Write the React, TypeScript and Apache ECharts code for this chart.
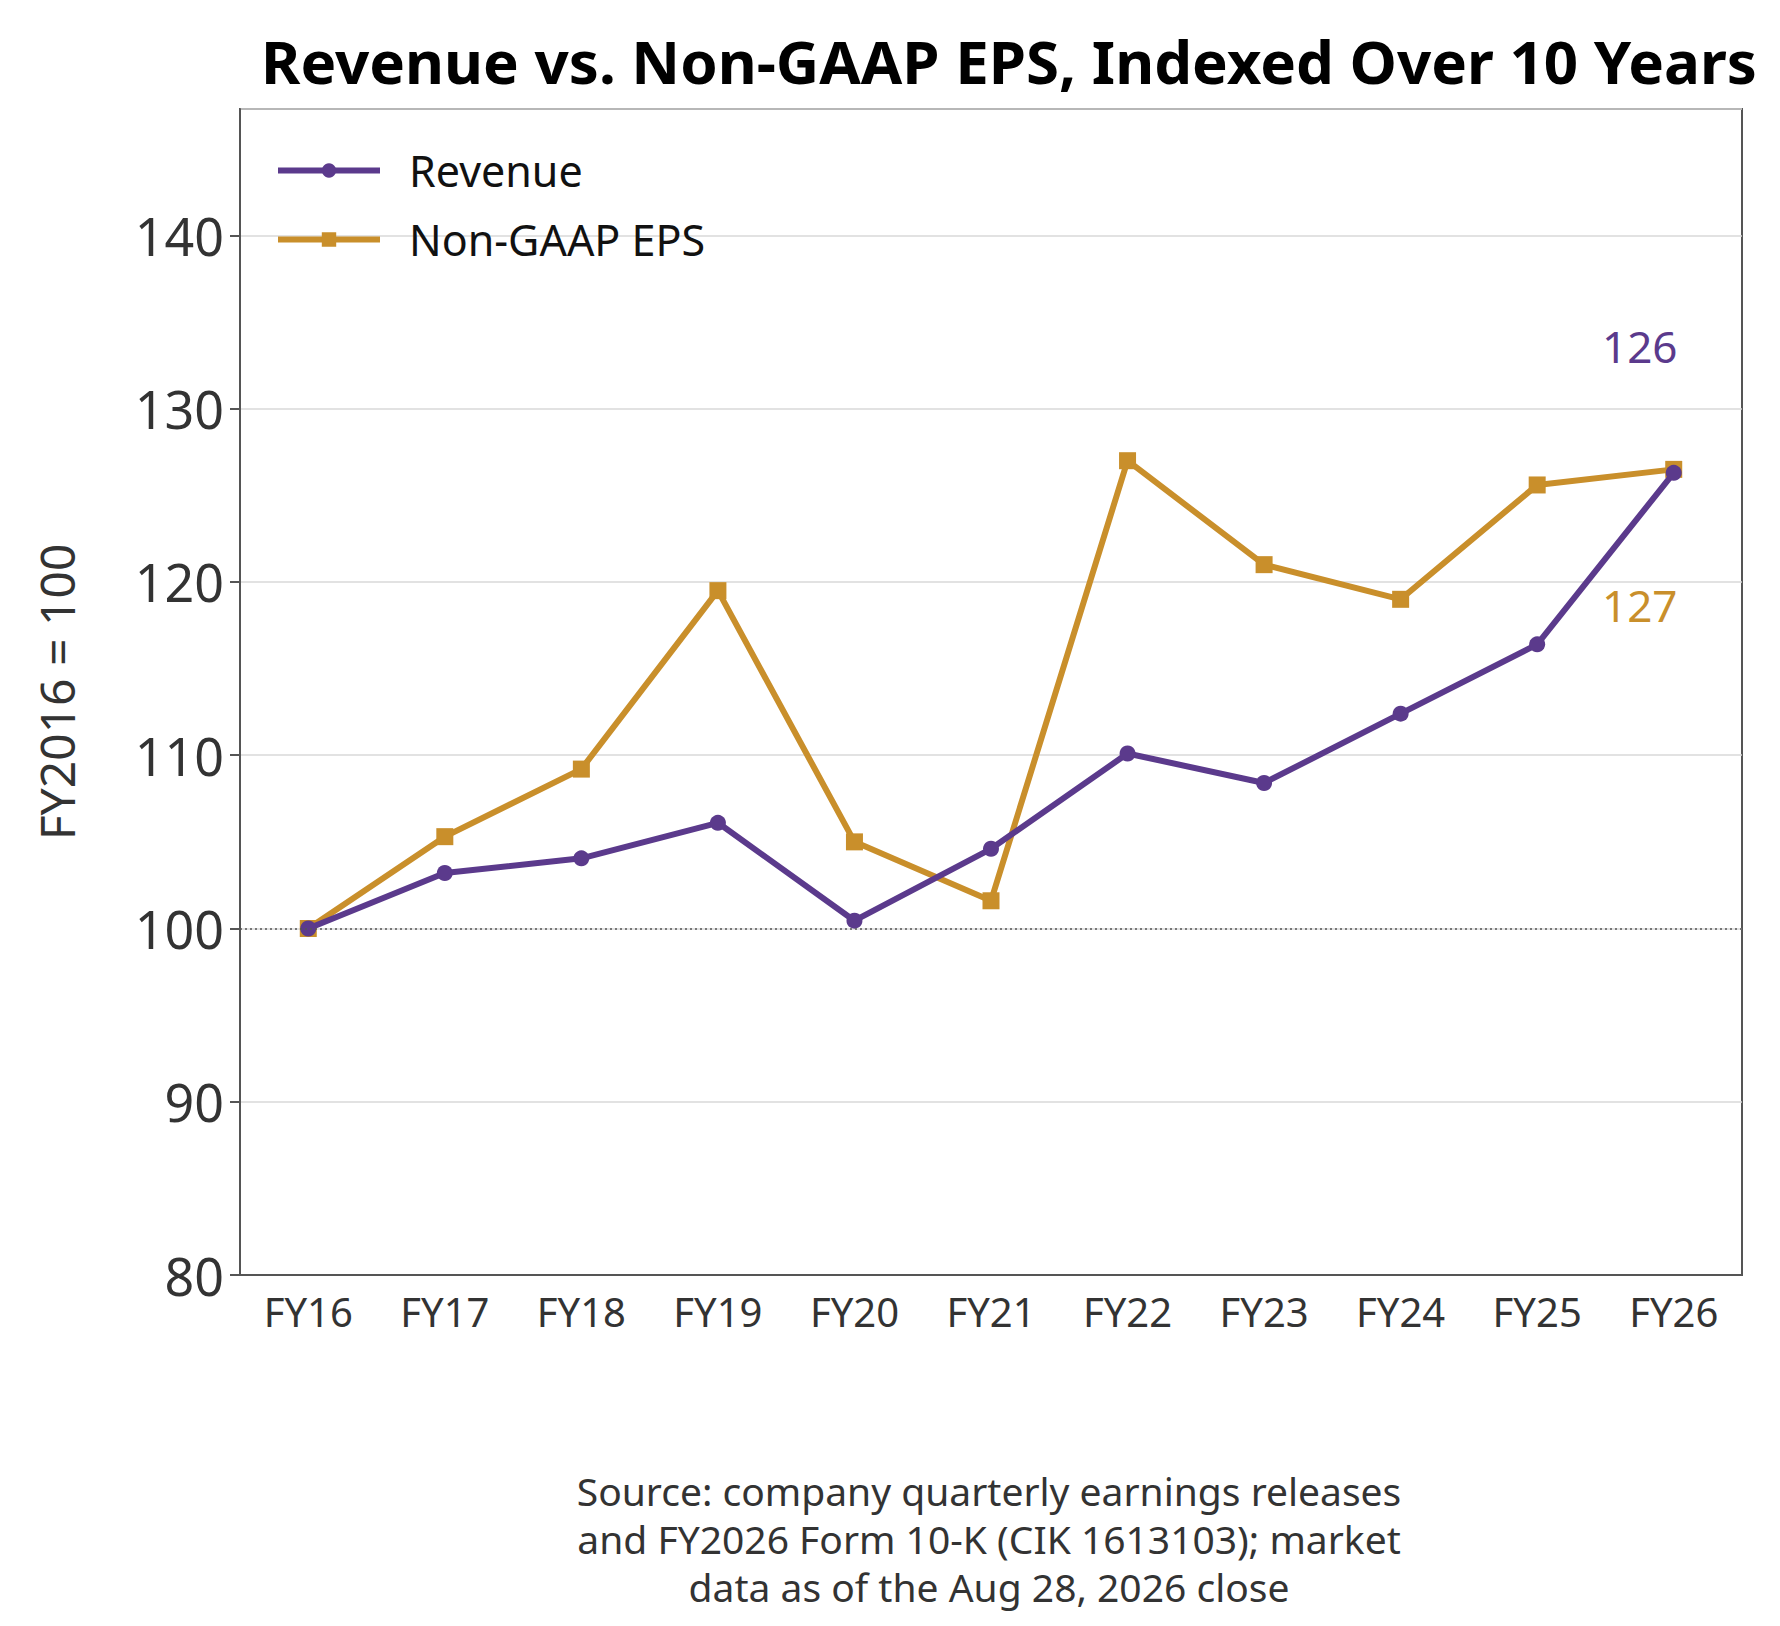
import React, { useEffect, useRef } from "react";
import * as echarts from "echarts";

const categories = ["FY16", "FY17", "FY18", "FY19", "FY20", "FY21", "FY22", "FY23", "FY24", "FY25", "FY26"];
const revenue = [100, 103.2, 104.05, 106.1, 100.45, 104.6, 110.1, 108.4, 112.4, 116.4, 126.3];
const eps = [100, 105.3, 109.2, 119.5, 105.0, 101.6, 127.0, 121.0, 119.0, 125.6, 126.5];
const FONT = "Noto Sans";

export default function App() {
  const ref = useRef<HTMLDivElement>(null);
  useEffect(() => {
    const chart = echarts.init(ref.current!, null, { renderer: "svg" });
    const last = categories.length - 1;
    chart.setOption({
      animation: false,
      textStyle: { fontFamily: FONT },
      title: {
        text: "Revenue vs. Non-GAAP EPS, Indexed Over 10 Years",
        left: 996, top: 18, textAlign: "center",
        textStyle: { fontSize: 60, fontWeight: "bold", color: "#000", fontFamily: FONT },
      },
      legend: {
        left: 262, top: 136, orient: "vertical", itemGap: 26, itemWidth: 102, itemHeight: 18,
        textStyle: { fontSize: 43, color: "#111", padding: [0, 0, 0, 24] },
        lineStyle: { width: 6 },
        data: [{ name: "Revenue" }, { name: "Non-GAAP EPS" }],
      },
      grid: { left: 232, right: 30, top: 101, bottom: 359, show: true, borderColor: "#555", borderWidth: 2 },
      xAxis: {
        type: "category", data: categories, boundaryGap: true,
        axisLine: { lineStyle: { color: "#555", width: 2 } },
        axisTick: { alignWithLabel: true, length: 10, lineStyle: { color: "#555", width: 2 } },
        axisLabel: { fontSize: 40, color: "#333", margin: 16 },
      },
      yAxis: {
        type: "value", min: 80, max: 147.3, interval: 10,
        name: "FY2016 = 100", nameLocation: "middle", nameGap: 160, nameRotate: 90,
        nameTextStyle: { fontSize: 48, color: "#333" },
        axisLine: { show: true, lineStyle: { color: "#555", width: 2 } },
        axisTick: { show: true, length: 10, lineStyle: { color: "#555", width: 2 } },
        axisLabel: { fontSize: 52, color: "#333", margin: 16, showMaxLabel: false },
        splitLine: { lineStyle: { color: "#d9d9d9", width: 1.5 } },
      },
      series: [
        {
          name: "Revenue", type: "line", data: revenue.map((v, i) => ({
            value: v,
            label: i === last ? { show: true, position: "top", offset: [-34, -92], fontSize: 44, color: "#5b3a8c", formatter: () => String(Math.round(v)) } : { show: false },
          })),
          symbol: "circle", symbolSize: 16, z: 3,
          lineStyle: { color: "#5b3a8c", width: 6 }, itemStyle: { color: "#5b3a8c" },
          markLine: {
            silent: true, symbol: "none", label: { show: false },
            lineStyle: { color: "#555", type: [2, 3], width: 1.5 },
            data: [{ yAxis: 100 }],
          },
        },
        {
          name: "Non-GAAP EPS", type: "line", data: eps.map((v, i) => ({
            value: v,
            label: i === last ? { show: true, position: "bottom", offset: [-34, 100], fontSize: 44, color: "#c98f2b", formatter: () => String(Math.round(v)) } : { show: false },
          })),
          symbol: "rect", symbolSize: 17, z: 2,
          lineStyle: { color: "#c98f2b", width: 6 }, itemStyle: { color: "#c98f2b" },
        },
      ],
      graphic: [{
        type: "text", x: 981, y: 1458,
        style: {
          text: "Source: company quarterly earnings releases\nand FY2026 Form 10-K (CIK 1613103); market\ndata as of the Aug 28, 2026 close",
          fontSize: 39, lineHeight: 48, fill: "#333", align: "center", fontFamily: FONT,
        },
      }],
    });
    return () => chart.dispose();
  }, []);
  return <div ref={ref} style={{ width: 1764, height: 1626 }} />;
}
